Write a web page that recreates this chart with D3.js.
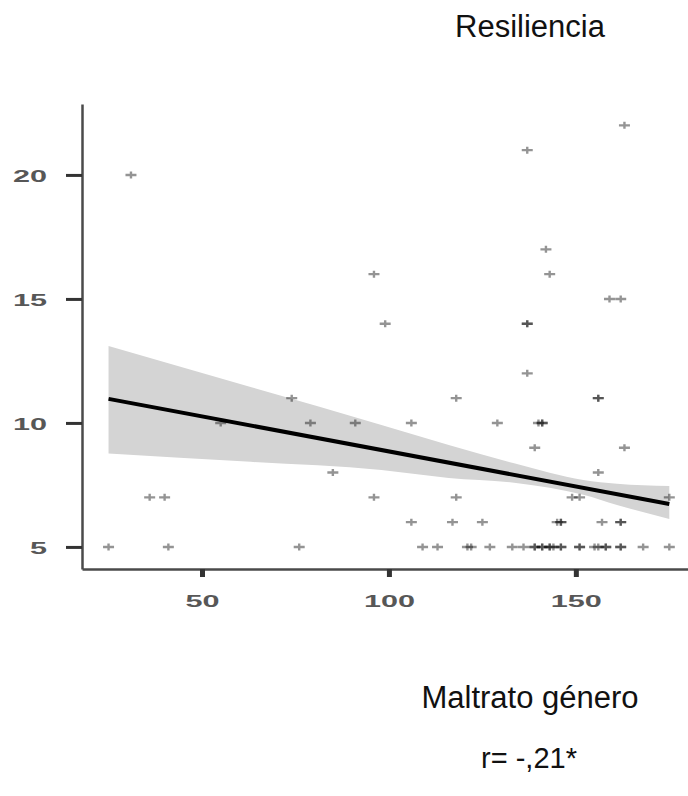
<!DOCTYPE html>
<html>
<head>
<meta charset="utf-8">
<script src="https://cdn.jsdelivr.net/npm/d3@7"></script>
<style>
  body { margin: 0; background: #fff; }
  svg { display: block; }
</style>
</head>
<body>
<div id="chart"></div>
<script>
'use strict';

var yTitle = 'Resiliencia';
var xTitle = 'Maltrato género';
var rLabel = 'r= -,21*';

var xTicks = [50, 100, 150];
var yTicks = [5, 10, 15, 20];

// scatter points (Maltrato género, Resiliencia); repeated pairs are overlapping cases
var pointX = [31, 163, 137, 142, 96, 143, 159, 162, 99, 137, 137, 137,
    74, 118, 156, 156,
    55, 79, 91, 106, 129, 140, 141, 141,
    139, 163, 85, 156,
    36, 40, 96, 118, 149, 151, 175,
    106, 117, 125, 145, 146, 146, 157, 162, 162,
    25, 41, 76, 109, 113, 121, 122, 127, 133, 136, 139, 139, 141, 141, 143, 143,
    144, 146, 146, 151, 151, 155, 156, 158, 158, 162, 162, 168, 175];
var pointY = [20, 22, 21, 17, 16, 16, 15, 15, 14, 14, 14, 12,
    11, 11, 11, 11,
    10, 10, 10, 10, 10, 10, 10, 10,
    9, 9, 8, 8,
    7, 7, 7, 7, 7, 7, 7,
    6, 6, 6, 6, 6, 6, 6, 6, 6,
    5, 5, 5, 5, 5, 5, 5, 5, 5, 5, 5, 5, 5, 5, 5, 5,
    5, 5, 5, 5, 5, 5, 5, 5, 5, 5, 5, 5, 5];

// fitted line and its confidence band
var fitX = [25, 175];
var fitY = [10.97, 6.73];
var bandX = [25, 63, 98, 116, 134, 152, 161, 175];
var bandUpper = [13.1, 11.45, 9.92, 9.11, 8.35, 7.7, 7.55, 7.46];
var bandLower = [8.77, 8.43, 8.1, 7.78, 7.58, 7.1, 6.69, 6.13];

var width = 688;
var height = 796;
var axisLeftX = 82;
var axisBottomY = 569;
var labelStretch = 1.8;

var x = d3.scaleLinear().domain([17.9, 180]).range([axisLeftX, 688]);
var y = d3.scaleLinear().domain([4.11, 22.86]).range([axisBottomY, 104]);

var svg = d3.select('#chart').append('svg')
    .attr('width', width)
    .attr('height', height);

var band = d3.area()
    .x(function(d, i) { return x(bandX[i]); })
    .y0(function(d, i) { return y(bandLower[i]); })
    .y1(function(d, i) { return y(bandUpper[i]); })
    .curve(d3.curveMonotoneX);

svg.append('path')
    .datum(bandX)
    .attr('d', band)
    .attr('fill', '#d4d4d4');

svg.append('path')
    .datum(fitX)
    .attr('d', d3.line()
        .x(function(d) { return x(d); })
        .y(function(d, i) { return y(fitY[i]); }))
    .attr('fill', 'none')
    .attr('stroke', '#000')
    .attr('stroke-width', 4);

svg.selectAll('.pt')
    .data(pointX)
    .enter()
    .append('path')
    .attr('class', 'pt')
    .attr('transform', function(d, i) {
        return 'translate(' + x(d) + ',' + y(pointY[i]) + ')';
    })
    .attr('d', 'M-5.5,0H5.5M0,-3.5V3.5')
    .attr('fill', 'none')
    .attr('stroke', '#000')
    .attr('stroke-opacity', 0.42)
    .attr('stroke-width', 2.4);

var yAxis = d3.axisLeft(y).tickValues(yTicks).tickSize(16).tickSizeOuter(0);
var xAxis = d3.axisBottom(x).tickValues(xTicks).tickSize(8).tickSizeOuter(0);

var gy = svg.append('g')
    .attr('transform', 'translate(' + axisLeftX + ',0)')
    .call(yAxis);

var gx = svg.append('g')
    .attr('transform', 'translate(0,' + axisBottomY + ')')
    .call(xAxis);

[gx, gy].forEach(function(g) {
    g.select('.domain').attr('stroke', '#4a4a4a').attr('stroke-width', 2.5);
    g.selectAll('.tick text')
        .attr('fill', '#3a3a3a')
        .style('font-family', '"Liberation Sans", Arial, sans-serif')
        .style('font-size', '17px')
        .style('font-weight', 'bold')
        .style('opacity', 0.85);
});

gy.selectAll('.tick line').attr('stroke', '#333').attr('stroke-width', 3);
gy.selectAll('.tick text')
    .attr('x', -35 / labelStretch)
    .attr('dy', '0.36em')
    .attr('transform', 'scale(' + labelStretch + ',1)');

gx.selectAll('.tick line').attr('stroke', '#333').attr('stroke-width', 5);
gx.selectAll('.tick text')
    .attr('y', 26)
    .attr('transform', 'scale(' + labelStretch + ',1)');

var titleFont = '"Liberation Sans", Arial, sans-serif';

svg.append('text')
    .attr('x', 530)
    .attr('y', 37)
    .attr('text-anchor', 'middle')
    .style('font-family', titleFont)
    .style('font-size', '31px')
    .attr('fill', '#111')
    .text(yTitle);

svg.append('text')
    .attr('x', 530)
    .attr('y', 708)
    .attr('text-anchor', 'middle')
    .style('font-family', titleFont)
    .style('font-size', '31px')
    .attr('fill', '#111')
    .text(xTitle);

svg.append('text')
    .attr('x', 529)
    .attr('y', 768)
    .attr('text-anchor', 'middle')
    .style('font-family', titleFont)
    .style('font-size', '29px')
    .attr('fill', '#111')
    .text(rLabel);
</script>
</body>
</html>
